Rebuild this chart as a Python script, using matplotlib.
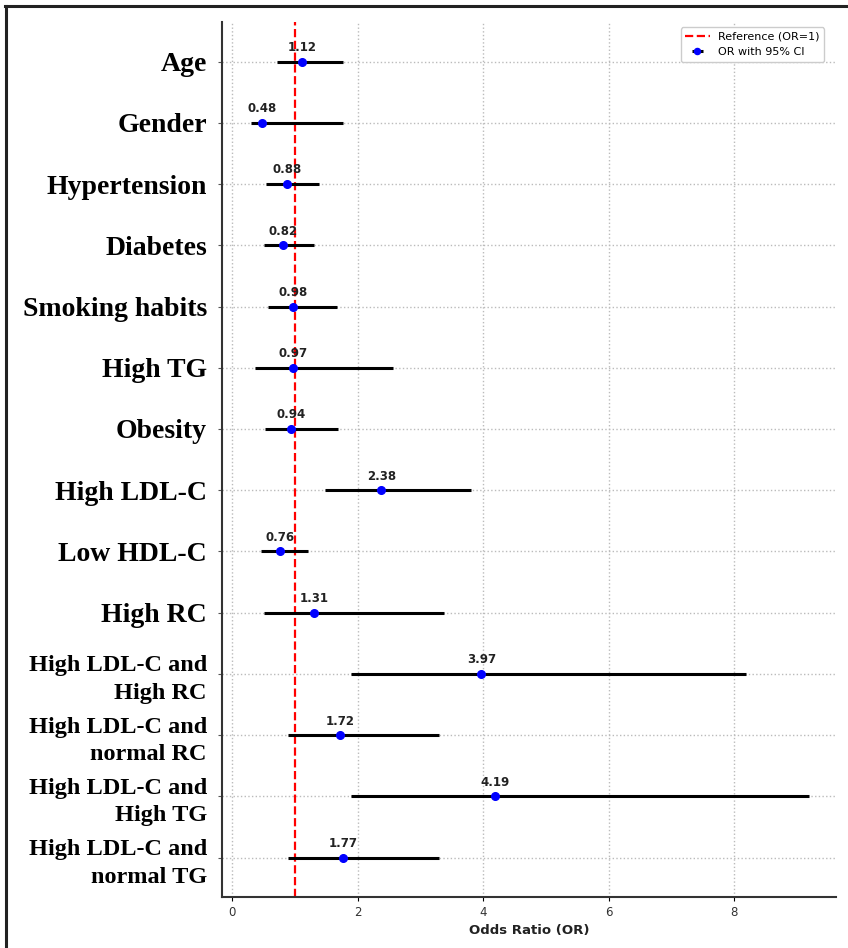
import numpy as np
import matplotlib
matplotlib.use('Agg')
import matplotlib.pyplot as plt
from matplotlib.lines import Line2D

# ── data ──
variables = ['Age', 'Gender', 'Hypertension', 'Diabetes', 'Smoking habits', 'High TG',
             'Obesity', 'High LDL-C', 'Low HDL-C', 'High RC',
             'High LDL-C and\nHigh RC', 'High LDL-C and\nnormal RC',
             'High LDL-C and\nHigh TG', 'High LDL-C and\nnormal TG']
odds_ratio = [1.12, 0.48, 0.88, 0.82, 0.98, 0.97, 0.94, 2.38, 0.76, 1.31, 3.97, 1.72, 4.19, 1.77]
ci_lower = [0.71, 0.30, 0.55, 0.51, 0.58, 0.37, 0.53, 1.49, 0.47, 0.51, 1.90, 0.90, 1.90, 0.90]
ci_upper = [1.77, 1.77, 1.39, 1.31, 1.68, 2.56, 1.69, 3.81, 1.21, 3.37, 8.18, 3.29, 9.19, 3.30]

OR = np.array(odds_ratio)
err = np.array([OR - np.array(ci_lower), np.array(ci_upper) - OR])
y = np.arange(len(variables))

fig = plt.figure(figsize=(8.48, 9.48), dpi=100)
ax = fig.add_axes([0.262, 0.054, 0.724, 0.923])

ax.axvline(1, color='red', linestyle='--', linewidth=1.6, label='Reference (OR=1)', zorder=1)
ax.errorbar(OR, y, xerr=err, fmt='o', color='blue', ecolor='black', elinewidth=2.2,
            capsize=0, markersize=5.5, label='OR with 95% CI', zorder=3)

for xi, yi, v in zip(OR, y, odds_ratio):
    ax.annotate(f'{v:.2f}', (xi, yi), xytext=(0, 5.5), textcoords='offset points',
                ha='center', va='bottom', fontsize=8.5, fontweight='bold', color='#222222')

ax.set_yticks(y)
ax.set_yticklabels(variables, fontweight='bold', family='Liberation Serif')
for lbl in ax.get_yticklabels():
    if '\n' in lbl.get_text():
        lbl.set_fontsize(17.5)
        lbl.set_linespacing(1.4)
    else:
        lbl.set_fontsize(20)
ax.set_ylim(len(variables) - 1 + 0.64, -0.65)
ax.set_xlim(-0.155, 9.62)
ax.set_xticks([0, 2, 4, 6, 8])
ax.tick_params(axis='x', labelsize=8.5, labelcolor='#333333', length=3)
ax.tick_params(axis='y', length=3, color='#555555', pad=8)
ax.set_xlabel('Odds Ratio (OR)', fontsize=9.5, fontweight='bold', color='#222222')

ax.grid(True, linestyle=':', color='#bbbbbb', linewidth=1.0)
ax.set_axisbelow(True)
for s in ['top', 'right']:
    ax.spines[s].set_visible(False)
for s in ['left', 'bottom']:
    ax.spines[s].set_color('#333333')
    ax.spines[s].set_linewidth(1.5)

ax.legend(loc='upper right', fontsize=8, framealpha=1, edgecolor='#cccccc',
          borderpad=0.4, handlelength=2.2, markerscale=0.8, bbox_to_anchor=(0.99, 1.0))

# outer frame of the picture (top and left edges)
fig.add_artist(Line2D([0.006, 1.0], [0.9935, 0.9935], color='#222222', linewidth=2.2,
                      transform=fig.transFigure))
fig.add_artist(Line2D([0.0065, 0.0065], [0.0, 0.9935], color='#222222', linewidth=2.2,
                      transform=fig.transFigure))

plt.savefig('out.png', dpi=100)
plt.close()
